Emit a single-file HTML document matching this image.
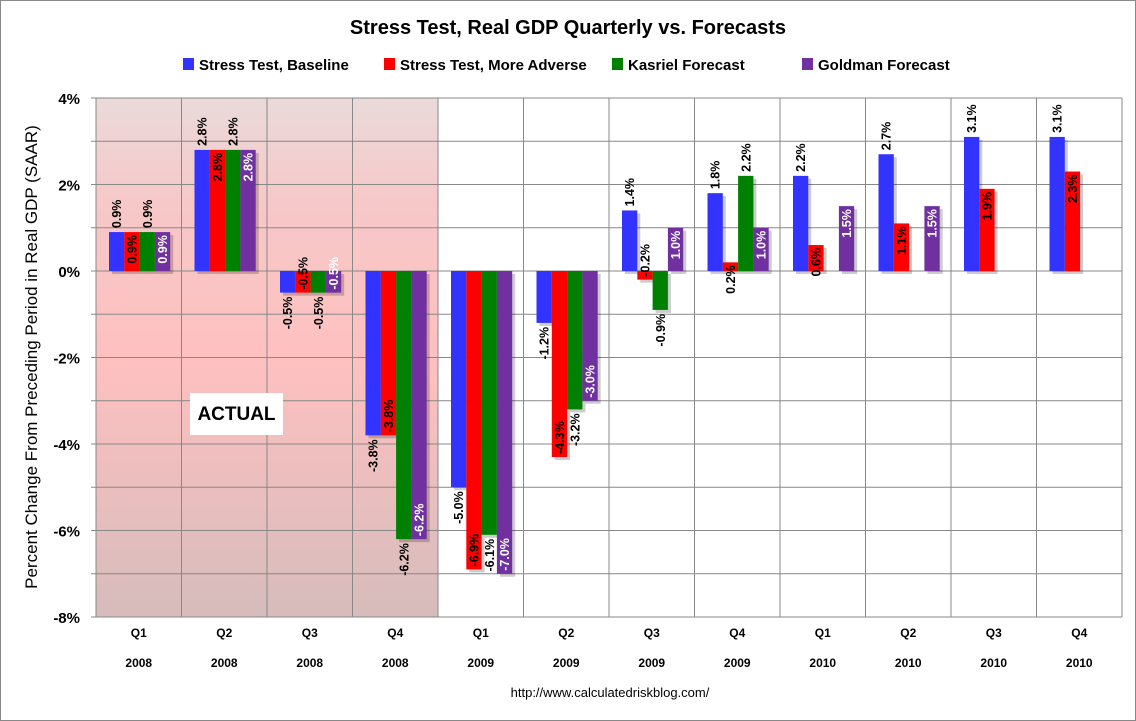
<!DOCTYPE html>
<html><head><meta charset="utf-8"><style>
body{margin:0;background:#fff}
svg{display:block;font-family:"Liberation Sans",sans-serif}
</style></head><body>
<svg id="c" width="1136" height="721">
<defs>
<linearGradient id="pg" x1="0" y1="0" x2="0" y2="1">
<stop offset="0" stop-color="#eadada"/><stop offset="0.2" stop-color="#f6c8c8"/>
<stop offset="0.5" stop-color="#ffc0c0"/><stop offset="1" stop-color="#d6bcbc"/>
</linearGradient>
</defs>
<rect x="0.5" y="0.5" width="1135" height="720" fill="#fff" stroke="#888"/>
<text x="568" y="34" text-anchor="middle" font-size="20" font-weight="bold">Stress Test, Real GDP Quarterly vs. Forecasts</text>
<g id="legend"></g>
<g id="plot"></g>
<text x="610" y="697" text-anchor="middle" font-size="13">http://www.calculatedriskblog.com/</text>
<text transform="translate(37,357) rotate(-90)" text-anchor="middle" font-size="17">Percent Change From Preceding Period in Real GDP (SAAR)</text>
</svg>
<script>
const quarters=["Q1","Q2","Q3","Q4","Q1","Q2","Q3","Q4","Q1","Q2","Q3","Q4"];
const years=["2008","2008","2008","2008","2009","2009","2009","2009","2010","2010","2010","2010"];
const baseline=[0.9,2.8,-0.5,-3.8,-5.0,-1.2,1.4,1.8,2.2,2.7,3.1,3.1];
const adverse=[0.9,2.8,-0.5,-3.8,-6.9,-4.3,-0.2,0.2,0.6,1.1,1.9,2.3];
const kasriel=[0.9,2.8,-0.5,-6.2,-6.1,-3.2,-0.9,2.2,null,null,null,null];
const goldman=[0.9,2.8,-0.5,-6.2,-7.0,-3.0,1.0,1.0,1.5,1.5,null,null];
const seriesNames=["Stress Test, Baseline","Stress Test, More Adverse","Kasriel Forecast","Goldman Forecast"];
const yTicks=[4,2,0,-2,-4,-6,-8];

const NS="http://www.w3.org/2000/svg";
const L=96,R=1122,T=98,B=617,yMin=-8,yMax=4;
const cw=(R-L)/quarters.length, bw=15.3, off=13;
const y=v=>T+(yMax-v)*(B-T)/(yMax-yMin);
const x=(i,s)=>L+i*cw+off+s*bw;
const plot=document.getElementById('plot');
function mk(tag,at,parent){const e=document.createElementNS(NS,tag);for(const k in at)e.setAttribute(k,at[k]);(parent||plot).appendChild(e);return e;}

let e=mk('rect',{x:L,y:T,width:R-L,height:B-T,fill:'#fff'});


e=mk('rect',{x:L,y:T,width:cw*4,height:B-T,fill:'url(#pg)'});


for(let v=yMin;v<=yMax;v++){
  e=mk('line',{x1:L-5,x2:R,y1:y(v),y2:y(v),stroke:'#888','stroke-width':1});
  
  
}
for(let i=0;i<=quarters.length;i++){
  e=mk('line',{x1:L+i*cw,x2:L+i*cw,y1:T,y2:B,stroke:'#888','stroke-width':1});
  
  
}
yTicks.forEach(v=>{
  const t=mk('text',{x:80,y:y(v)+6,'text-anchor':'end','font-size':15,'font-weight':'bold'});
  t.textContent=v+'%';
  
  
});
quarters.forEach((q,i)=>{
  const cx=L+i*cw+cw/2;
  let t=mk('text',{x:cx,y:637,'text-anchor':'middle','font-size':12,'font-weight':'bold'});
  t.textContent=q;
  
  
  t=mk('text',{x:cx,y:667,'text-anchor':'middle','font-size':12,'font-weight':'bold'});
  t.textContent=years[i];
  
  
});
const series=[baseline,adverse,kasriel,goldman];
const colors=["#3333ff","#ff0000","#008000","#7030a0"];
const inside=[false,true,false,true];
const txtCol=["#000","#000","#000","#fff"];
series.forEach((arr,s)=>{
  arr.forEach((v,i)=>{
    if(v===null)return;
    const bx=x(i,s), y0=y(0), y1=y(v);
    const top=Math.min(y0,y1), h=Math.abs(y1-y0);
    let sh=mk('rect',{x:bx+3,y:top+3,width:bw,height:h,fill:'rgba(0,0,0,0.2)'});
    
    
    const r=mk('rect',{x:bx,y:top,width:bw,height:h,fill:colors[s]});
    
    
    const lab=v.toFixed(1)+'%';
    const pos=v>=0;
    let ly,anchor;
    if(inside[s]){ ly=pos?y1+3:y1-3; anchor=pos?'end':'start'; }
    else { ly=pos?y1-4:y1+4; anchor=pos?'start':'end'; }
    const t=mk('text',{transform:`translate(${bx+bw/2+4.5},${ly}) rotate(-90)`,'text-anchor':anchor,'font-size':12.5,'font-weight':'bold',fill:txtCol[s]});
    t.textContent=lab;
    
    
  });
});
e=mk('rect',{x:190,y:393,width:93,height:42,fill:'#fff'});


e=mk('text',{x:236.5,y:420,'text-anchor':'middle','font-size':19,'font-weight':'bold'});
e.textContent='ACTUAL';



const lg=document.getElementById('legend');
const lx=[183,384,612,802];
seriesNames.forEach((n,s)=>{
  let r=mk('rect',{x:lx[s],y:58,width:11,height:12,fill:colors[s]},lg);
  
  
  let t=mk('text',{x:lx[s]+16,y:70,'font-size':15,'font-weight':'bold'},lg);
  t.textContent=n;
  
  
});
</script>
</body></html>
